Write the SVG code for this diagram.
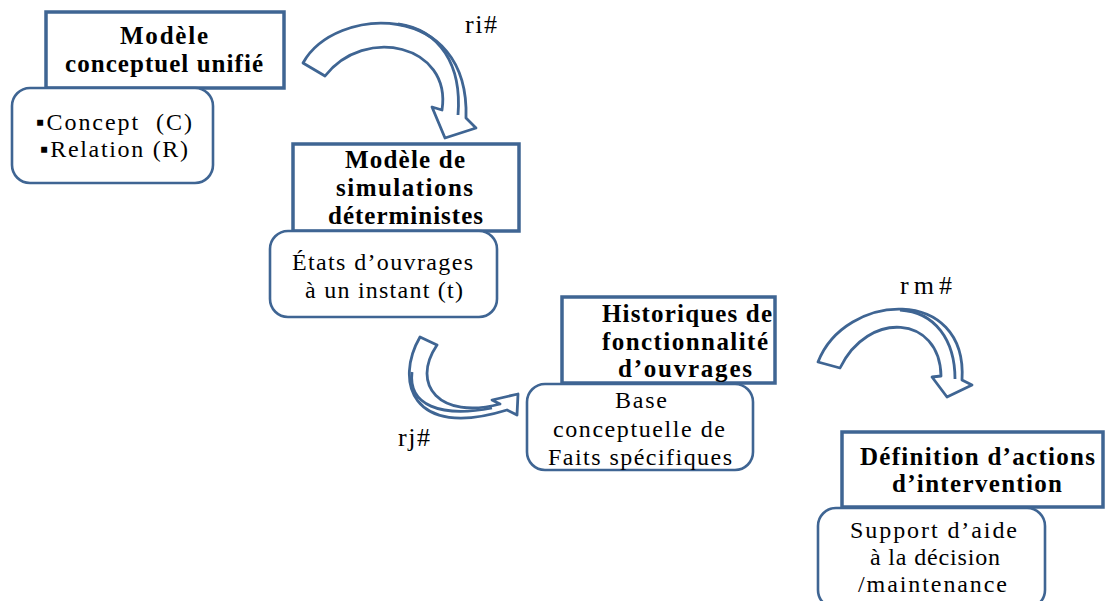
<svg xmlns="http://www.w3.org/2000/svg" width="1105" height="601" viewBox="0 0 1105 601">
<style>
.hdr{fill:#fff;stroke:#3F6593;stroke-width:3.5}
.box{fill:#fff;stroke:#3F6593;stroke-width:2.6}
.arr{fill:#fff;stroke:#3F6593;stroke-width:2.8;stroke-linejoin:round}
.fold{fill:none;stroke:#3F6593;stroke-width:2.8}
text{font-family:'Liberation Serif','Times New Roman','DejaVu Serif',serif;fill:#000}
.b{font-weight:bold;font-size:25px}
.r{font-size:24px}
.lbl{font-size:26px}
</style>
<rect width="1105" height="601" fill="#fff"/>
<g id="connectors">
  <g id="arrow-ri">
    <path class="arr" d="M 303 63 C 335 5, 470 0, 466 118 L 476 128 L 445 138 L 432 107 L 442 110 C 452 45, 365 25, 325 76 Z"/>
    <path class="fold" d="M 398 24 C 440 30, 462 65, 458 115"/>
    <text class="lbl" font-family="Liberation Serif, serif" x="465" y="33" textLength="32" lengthAdjust="spacing">ri#</text>
  </g>
  <g id="arrow-rj">
    <path class="arr" d="M 420 337 C 395 380, 410 440, 507 410 L 517 415 L 518 394 L 492 400 L 500 404 C 440 420, 410 385, 437 345 Z"/>
    <path class="fold" d="M 412 372 C 408 405, 440 418, 492 408"/>
    <text class="lbl" font-family="Liberation Serif, serif" x="398" y="446" textLength="32" lengthAdjust="spacing">rj#</text>
  </g>
  <g id="arrow-rm">
    <path class="arr" d="M 818 362 C 845 292, 968 285, 962 380 L 972 385 L 947 397 L 932 377 L 941 376 C 940 315, 868 310, 840 368 Z"/>
    <path class="fold" d="M 900 310 C 935 312, 955 340, 955 379"/>
    <text class="lbl" font-family="Liberation Serif, serif" x="900" y="294" textLength="52" lengthAdjust="spacing">rm#</text>
  </g>
</g>
<g id="node-modele-conceptuel" font-family="Liberation Serif, serif">
  <rect class="hdr" x="46" y="12" width="238" height="76"/>
  <rect class="box" x="12" y="88" width="201" height="95" rx="18"/>
  <text class="b" x="120" y="44" textLength="88" lengthAdjust="spacing">Modèle</text>
  <text class="b" x="65" y="72" textLength="198" lengthAdjust="spacing">conceptuel unifié</text>
  <text class="r" x="36" y="130" textLength="156" lengthAdjust="spacing" xml:space="preserve">▪Concept  (C)</text>
  <text class="r" x="40" y="157" textLength="148" lengthAdjust="spacing">▪Relation (R)</text>
</g>
<g id="node-simulations">
  <rect class="hdr" x="293" y="144" width="226" height="87"/>
  <rect class="box" x="270" y="231" width="227" height="86" rx="18"/>
  <text class="b" x="345" y="168" textLength="120" lengthAdjust="spacing">Modèle de</text>
  <text class="b" x="336" y="196" textLength="137" lengthAdjust="spacing">simulations</text>
  <text class="b" x="328" y="224" textLength="155" lengthAdjust="spacing">déterministes</text>
  <text class="r" x="292" y="270" textLength="181" lengthAdjust="spacing">États d’ouvrages</text>
  <text class="r" x="305" y="298" textLength="158" lengthAdjust="spacing">à un instant (t)</text>
</g>
<g id="node-historiques">
  <rect class="hdr" x="562" y="297" width="213" height="86"/>
  <rect class="box" x="527" y="384" width="226" height="86" rx="18"/>
  <text class="b" x="602" y="322" textLength="170" lengthAdjust="spacing">Historiques de</text>
  <text class="b" x="602" y="350" textLength="166" lengthAdjust="spacing">fonctionnalité</text>
  <text class="b" x="618" y="377" textLength="134" lengthAdjust="spacing">d’ouvrages</text>
  <text class="r" x="615" y="408" textLength="52" lengthAdjust="spacing">Base</text>
  <text class="r" x="553" y="437" textLength="172" lengthAdjust="spacing">conceptuelle de</text>
  <text class="r" x="548" y="465" textLength="184" lengthAdjust="spacing">Faits spécifiques</text>
</g>
<g id="node-definition">
  <rect class="hdr" x="842" y="432" width="261" height="75"/>
  <rect class="box" x="818" y="508" width="227" height="100" rx="18"/>
  <text class="b" x="860" y="465" textLength="235" lengthAdjust="spacing">Définition d’actions</text>
  <text class="b" x="892" y="492" textLength="170" lengthAdjust="spacing">d’intervention</text>
  <text class="r" x="850" y="538" textLength="167" lengthAdjust="spacing">Support d’aide</text>
  <text class="r" x="870" y="565" textLength="130" lengthAdjust="spacing">à la décision</text>
  <text class="r" x="858" y="592" textLength="149" lengthAdjust="spacing">/maintenance</text>
</g>
</svg>
